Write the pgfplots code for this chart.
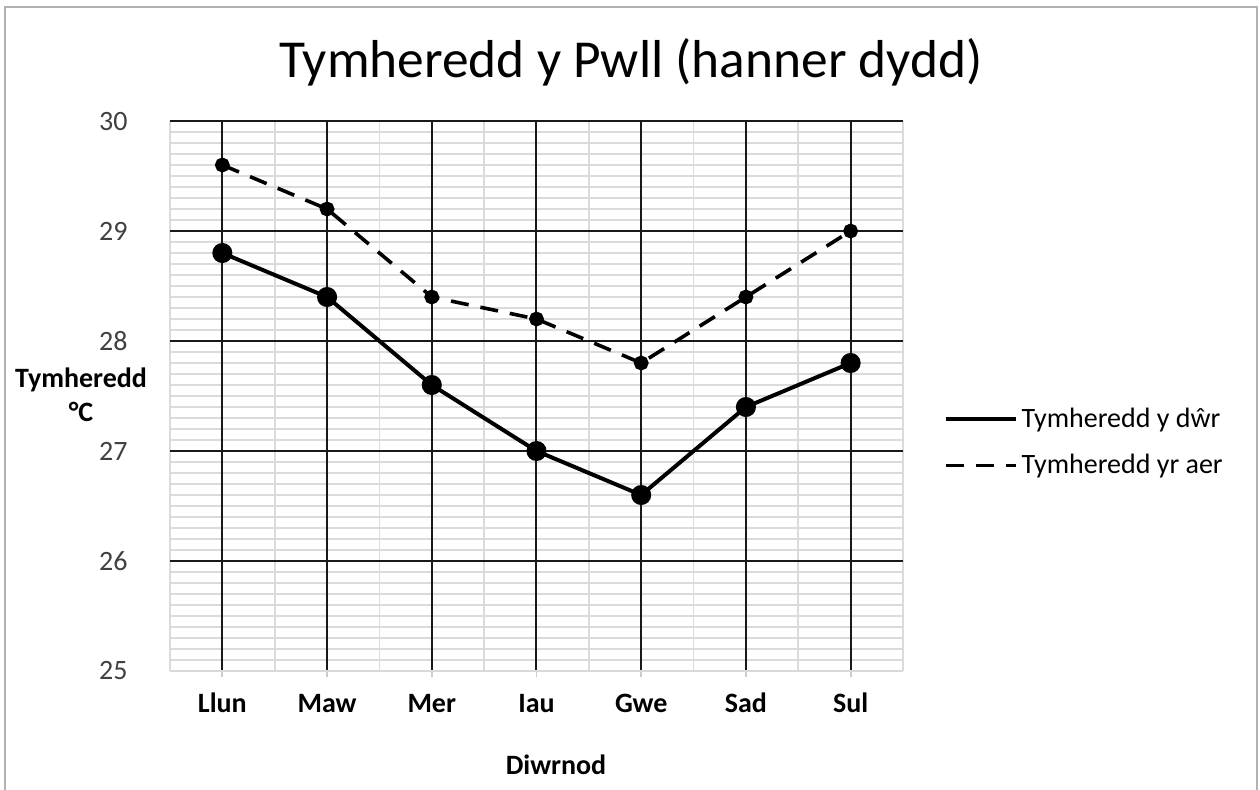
\documentclass[border=0pt]{standalone}
\usepackage{pgfplots}
\pgfplotsset{compat=1.18}
\usepackage{fontspec}
\setmainfont{Carlito}
\begin{document}
\begin{tikzpicture}[x=1pt,y=1pt]
\useasboundingbox (0,0) rectangle (630,394.5);
\draw[gray!60, line width=1pt] (2.5,-5) -- (2.5,391) -- (628.5,391) -- (628.5,-5);
\node[font=\fontsize{26.7}{27}\selectfont] at (315.5,363.5) {Tymheredd y Pwll (hanner dydd)};
\begin{axis}[
  at={(85pt,59pt)}, anchor=south west,
  scale only axis, width=366.5pt, height=275pt,
  xmin=-0.5, xmax=6.5, ymin=25, ymax=30,
  xtick={0,...,6}, xticklabels={Llun,Maw,Mer,Iau,Gwe,Sad,Sul},
  minor xtick={-0.5,0.5,...,6.5},
  ytick={26,...,30},
  minor ytick={25,25.1,...,30},
  xmajorgrids=false, xminorgrids=true, ymajorgrids=true, yminorgrids=true,
  extra x ticks={0,...,6}, extra x tick labels={},
  extra x tick style={xmajorgrids=true, major grid style={solid, black!90, line width=1pt}},
  extra y ticks={25},
  extra y tick style={major grid style={solid, gray!30, line width=0.9pt}},
  major grid style={solid, black!90, line width=1pt},
  minor grid style={solid, gray!28, line width=0.9pt},
  axis line style={draw=none},
  tick align=outside,
  tick pos=left,
  major tick length=3pt, minor tick length=0pt,
  xtick style={solid, gray!40, line width=0.9pt},
  ytick style={draw=none},
  yticklabel style={font=\fontsize{14}{14}\selectfont, text=black!75, anchor=east, inner sep=0pt, xshift=-18pt},
  xticklabel style={font=\bfseries\fontsize{14}{14}\selectfont, anchor=base, inner sep=0pt, yshift=-17.5pt},
  /pgf/number format/assume math mode=true,
  legend style={at={(1.055,0.416)}, anchor=west, draw=none, fill=none, font=\fontsize{14}{14}\selectfont, row sep=8pt, inner sep=0pt},
  legend cell align=left,
  legend image code/.code={\draw[#1] (0pt,0pt) -- (35pt,0pt);},
]
\addplot[black, line width=2pt, mark=*, mark size=4pt] coordinates {(0,28.8)(1,28.4)(2,27.6)(3,27.0)(4,26.6)(5,27.4)(6,27.8)};
\addlegendentry{Tymheredd y dŵr}
\addplot[black, line width=1.8pt, dash pattern=on 9pt off 6pt, mark=*, mark size=2.8pt, mark options={solid}] coordinates {(0,29.6)(1,29.2)(2,28.4)(3,28.2)(4,27.8)(5,28.4)(6,29.0)};
\addlegendentry{Tymheredd yr aer}
\end{axis}
\node[font=\bfseries\fontsize{14}{14}\selectfont] at (278,12) {Diwrnod};
\node[font=\bfseries\fontsize{14}{17}\selectfont, align=center] at (40.5,197) {Tymheredd\\°C};
\end{tikzpicture}
\end{document}
